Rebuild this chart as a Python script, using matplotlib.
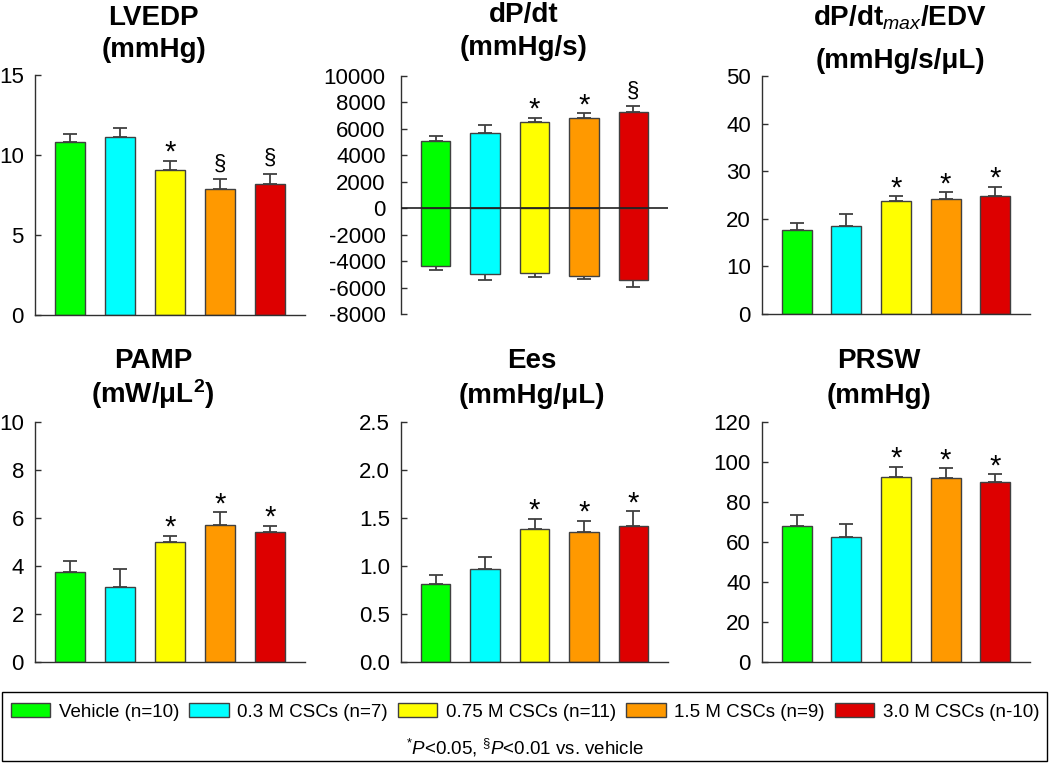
import numpy as np
import matplotlib
matplotlib.use('Agg')
import matplotlib.pyplot as plt
from matplotlib.patches import Patch, Rectangle

plt.rcParams['font.family'] = ['Liberation Sans', 'DejaVu Sans']
plt.rcParams['mathtext.fontset'] = 'custom'
plt.rcParams['mathtext.rm'] = 'Liberation Sans'
plt.rcParams['mathtext.it'] = 'Liberation Sans:italic'
plt.rcParams['mathtext.bf'] = 'Liberation Sans:bold'
plt.rcParams['axes.unicode_minus'] = False

# groups
groups = ['Vehicle (n=10)', '0.3 M CSCs (n=7)', '0.75 M CSCs (n=11)',
          '1.5 M CSCs (n=9)', '3.0 M CSCs (n-10)']
colors = ['#00ff00', '#00ffff', '#ffff00', '#ff9900', '#dd0000']

# values (mean, SEM)
lvedp = [10.83, 11.15, 9.06, 7.88, 8.17]
lvedp_err = [0.46, 0.52, 0.57, 0.60, 0.64]
lvedp_sig = ['', '', '*', '§', '§']

dpdt_max = [5090, 5670, 6500, 6810, 7240]
dpdt_max_err = [380, 610, 330, 380, 475]
dpdt_min = [-4340, -4970, -4870, -5095, -5420]
dpdt_min_err = [325, 450, 300, 225, 510]
dpdt_sig = ['', '', '*', '*', '§']

dpdt_edv = [17.7, 18.5, 23.7, 24.1, 24.75]
dpdt_edv_err = [1.5, 2.5, 1.0, 1.5, 1.95]
dpdt_edv_sig = ['', '', '*', '*', '*']

pamp = [3.74, 3.12, 5.01, 5.70, 5.43]
pamp_err = [0.48, 0.75, 0.26, 0.54, 0.25]
pamp_sig = ['', '', '*', '*', '*']

ees = [0.81, 0.97, 1.39, 1.35, 1.42]
ees_err = [0.10, 0.12, 0.10, 0.12, 0.15]
ees_sig = ['', '', '*', '*', '*']

prsw = [68.2, 62.7, 92.6, 92.0, 89.8]
prsw_err = [5.2, 6.2, 5.0, 4.9, 4.0]
prsw_sig = ['', '', '*', '*', '*']

edge = '#404040'
W, H = 1050, 763
fig = plt.figure(figsize=(10.5, 7.63), dpi=100)


def make_ax(x0, x1, ytop, ybot):
    return fig.add_axes([x0 / W, 1 - ybot / H, (x1 - x0) / W, (ybot - ytop) / H])


def style(ax, ylim, step, fmt, bottom=True, pad=8):
    ax.set_xlim(-0.7, 4.7)
    ax.set_ylim(*ylim)
    ax.set_yticks(np.arange(ylim[0], ylim[1] + step / 2, step))
    ax.set_yticklabels([fmt.format(v) for v in ax.get_yticks()])
    for s in ['top', 'right']:
        ax.spines[s].set_visible(False)
    ax.spines['bottom'].set_visible(bottom)
    for s in ['left', 'bottom']:
        ax.spines[s].set_color('#303030')
        ax.spines[s].set_linewidth(1.0)
    ax.tick_params(axis='y', direction='in', length=4.5, width=1, color='#303030',
                   labelsize=16, pad=pad)
    ax.tick_params(axis='x', bottom=False, labelbottom=False)
    ax.patch.set_alpha(0)


def bars(ax, vals, errs, up=True):
    x = np.arange(len(vals))
    ax.bar(x, vals, width=0.6, color=colors, edgecolor=edge, linewidth=1, zorder=2)
    z = np.zeros(len(vals))
    yerr = [z, errs] if up else [errs, z]
    ax.errorbar(x, vals, yerr=yerr, fmt='none', ecolor=edge, elinewidth=1.3,
                capsize=5, capthick=1.3, zorder=1)


def marks(ax, vals, errs, sig):
    for i, (v, e, s) in enumerate(zip(vals, errs, sig)):
        if s == '*':
            ax.annotate('*', (i, v + e), xytext=(0, 0), textcoords='offset pixels',
                        ha='center', va='baseline', fontsize=21)
        elif s == '§':
            ax.annotate('§', (i, v + e), xytext=(0, 10), textcoords='offset pixels',
                        ha='center', va='baseline', fontsize=16)


def title(ax, l1, l2, tx, o1, o2):
    kw = dict(xycoords='axes fraction', textcoords='offset pixels', ha='center',
              va='baseline', fontsize=20, fontweight='bold')
    ax.annotate(l1, (tx, 1), xytext=(0, o1), **kw)
    ax.annotate(l2, (tx, 1), xytext=(0, o2), **kw)


# LVEDP
ax1 = make_ax(35, 305, 75, 315)
bars(ax1, lvedp, lvedp_err)
marks(ax1, lvedp, lvedp_err, lvedp_sig)
style(ax1, (0, 15), 5, '{:.0f}')
title(ax1, 'LVEDP', '(mmHg)', 0.44, 50, 18)

# dP/dt
ax2 = make_ax(401, 668, 76, 314)
bars(ax2, dpdt_max, dpdt_max_err)
bars(ax2, dpdt_min, dpdt_min_err, up=False)
marks(ax2, dpdt_max, dpdt_max_err, dpdt_sig)
style(ax2, (-8000, 10000), 2000, '{:.0f}', bottom=False, pad=11)
ax2.axhline(0, color='#202020', lw=1.2, zorder=3)
title(ax2, 'dP/dt', '(mmHg/s)', 0.46, 54, 21)

# dP/dt max / EDV
ax3 = make_ax(762, 1030, 76, 314)
bars(ax3, dpdt_edv, dpdt_edv_err)
marks(ax3, dpdt_edv, dpdt_edv_err, dpdt_edv_sig)
style(ax3, (0, 50), 10, '{:.0f}')
title(ax3, r'dP/dt$_{\mathit{max}}$/EDV', '(mmHg/s/μL)', 0.515, 51, 8)

# PAMP
ax4 = make_ax(35, 305, 422, 662)
bars(ax4, pamp, pamp_err)
marks(ax4, pamp, pamp_err, pamp_sig)
style(ax4, (0, 10), 2, '{:.0f}')
title(ax4, 'PAMP', r'(mW/μL$^{\mathbf{2}}$)', 0.437, 54, 19)

# Ees
ax5 = make_ax(401, 668, 422, 662)
bars(ax5, ees, ees_err)
marks(ax5, ees, ees_err, ees_sig)
style(ax5, (0, 2.5), 0.5, '{:.1f}')
title(ax5, 'Ees', '(mmHg/μL)', 0.49, 54, 19)

# PRSW
ax6 = make_ax(762, 1030, 422, 662)
bars(ax6, prsw, prsw_err)
marks(ax6, prsw, prsw_err, prsw_sig)
style(ax6, (0, 120), 20, '{:.0f}')
title(ax6, 'PRSW', '(mmHg)', 0.437, 54, 19)

# legend box
fig.add_artist(Rectangle((2 / W, 2 / H), 1045 / W, 69 / H, transform=fig.transFigure,
                         fill=False, edgecolor='black', linewidth=1))
handles = [Patch(facecolor=c, edgecolor=edge, linewidth=1) for c in colors]
fig.legend(handles, groups, loc='center', bbox_to_anchor=(0.5, 1 - 712 / H), ncol=5,
           frameon=False, fontsize=13.5, handlelength=2.1, handleheight=0.75,
           handletextpad=0.45, columnspacing=0.55, borderpad=0)
fig.text(0.5, 1 - 748 / H, r'$^{*}\mathit{P}$<0.05, $^{§}\mathit{P}$<0.01 vs. vehicle',
         ha='center', va='center', fontsize=13.5)

fig.savefig('out.png', dpi=100)
